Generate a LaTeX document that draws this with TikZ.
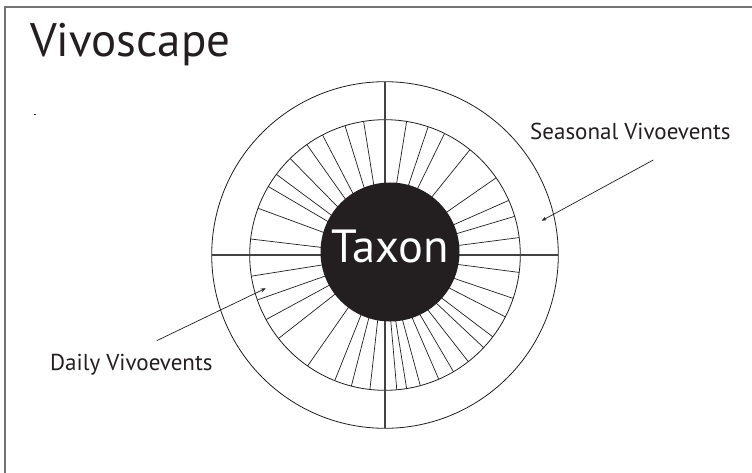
\documentclass[tikz,border=0pt]{standalone}
\usepackage{fontspec}
\setmainfont{PT Sans}
\usetikzlibrary{arrows.meta,calc}
\definecolor{ink}{RGB}{35,31,32}
\begin{document}
\begin{tikzpicture}[x=1pt,y=-1pt,
  ring/.style={draw=ink,line width=0.8pt},
  spoke/.style={draw=ink,line width=0.7pt},
  quad/.style={draw=ink!85,line width=1.1pt},
  frameline/.style={draw=black!55,line width=1.6pt},
  pointer/.style={draw=ink,line width=0.7pt,-{Stealth[length=5pt,width=4pt]}},
  lbl/.style={anchor=base west,inner sep=0pt,text=ink}]
\useasboundingbox (0,0) rectangle (752,473);
\fill[white] (0,0) rectangle (752,473);
% frame (only left and top edges visible)
\coordinate (ftl) at (4.7,7.3);
\coordinate (ftr) at (753,7.3);
\coordinate (fbl) at (4.7,474);
\draw[frameline] (fbl) -- (ftl) -- (ftr);
% title
\node[lbl,font=\fontsize{47}{50}\selectfont] (title) at (30,56.7) {Vivoscape};
% tiny mark
\coordinate (m1) at (34,114.3);
\coordinate (m2) at (36.2,114.3);
\draw[ink,line width=0.8pt] (m1) -- (m2);
% rings
\coordinate (c) at (385,255);
\draw[ring] (c) circle[radius=173.3];
\draw[ring] (c) circle[radius=135.3];
% spokes
\foreach \a in {173.2,159.8,149.6,143.4,134.5,125.3,117.5,107.2,99.1,
                80.8,71.4,63.9,51.1,34.8,23.8,16.6,7.4,
                -7.4,-18.7,-27.2,-37.2,-43.2,-52,-59.6,-66.6,-74.9,-80.8,-85,
                -96.4,-104.4,-111.8,-124.9,-141.9,-151.5,-160.6,-171}
  \draw[spoke] ($(c)+(\a:135.3pt)$) -- ($(c)+(\a:55pt)$);
% quadrant lines
\foreach \a in {0,90,180,270}
  \draw[quad] ($(c)+(\a:173.3pt)$) -- ($(c)+(\a:50pt)$);
% taxon disc
\node[circle,fill=ink,draw=none,minimum size=139pt,inner sep=0pt,
      text=white,font=\fontsize{46.5}{48}\selectfont,
      text height=33pt,text depth=12pt] (taxon) at (390,252) {Taxon};
% labels
\node[lbl,font=\fontsize{23}{26}\selectfont] (seasonal) at (530,140) {Seasonal Vivoevents};
\node[lbl,font=\fontsize{23}{26}\selectfont] (daily) at (50,370.7) {Daily Vivoevents};
% pointers
\coordinate (sfrom) at (653.3,160);
\coordinate (sto) at (541.7,220.7);
\coordinate (dfrom) at (156.7,340.7);
\coordinate (dto) at (265.7,288.3);
\draw[pointer] (sfrom) -- (sto);
\draw[pointer] (dfrom) -- (dto);
\end{tikzpicture}
\end{document}
